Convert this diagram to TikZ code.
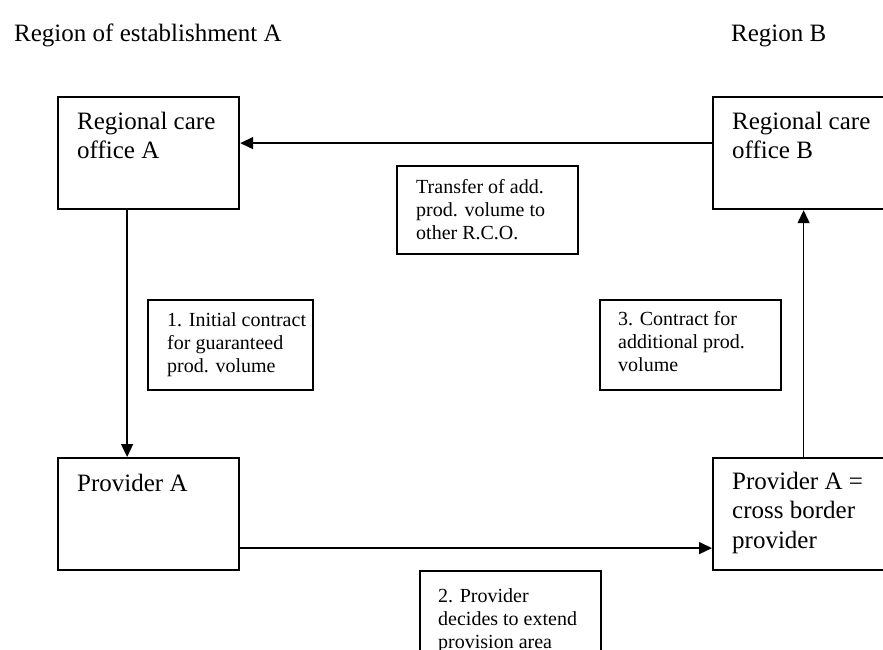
\documentclass[tikz,border=0pt]{standalone}
\usepackage{fontspec}
\setmainfont{Liberation Serif}
\usetikzlibrary{arrows.meta}

\begin{document}
\begin{tikzpicture}[x=1pt,y=-1pt,
  bigbox/.style={draw, line width=2.2pt, minimum width=181pt, minimum height=112pt, anchor=north west, inner sep=0pt},
  smallbox/.style={draw, line width=2pt, anchor=north west, inner sep=0pt},
  bigtxt/.style={anchor=base west, align=left, inner sep=0pt, font=\fontsize{25}{29.5}\selectfont},
  smalltxt/.style={anchor=base west, align=left, inner sep=0pt, font=\fontsize{20}{23}\selectfont},
  arr/.style={line width=1.4pt, -{Triangle[length=13pt,width=12pt]}}]

\useasboundingbox (0,0) rectangle (883,650);
\clip (0,0) rectangle (883,650);

\node[bigtxt] (regA) at (14,42) {Region of establishment A};
\node[bigtxt] (regB) at (731,42) {Region B};

\node[bigbox] (rca) at (57,96) {};
\node[bigbox] (rcb) at (712,96) {};
\node[bigbox] (prova) at (57,457) {};
\node[bigbox] (cbp) at (712,457) {};

\node[bigtxt] (rcaText) at (77,158.5) {Regional care\\office A};
\node[bigtxt] (rcbText) at (732,158.5) {Regional care\\office B};
\node[bigtxt] (provaText) at (77,491) {Provider A};
\node[bigtxt] (cbpText) at (732,548) {Provider A =\\cross border\\provider};

\node[smallbox, minimum width=181pt, minimum height=88pt] (transfer) at (396,165) {};
\node[smallbox, minimum width=165pt, minimum height=90pt] (step1) at (147,299) {};
\node[smallbox, minimum width=181pt, minimum height=90pt] (step3) at (599,299) {};
\node[smallbox, minimum width=181pt, minimum height=120pt] (step2) at (419,570) {};

\node[smalltxt] (transferText) at (416,239) {Transfer of add.\\prod. volume to\\other R.C.O.};
\node[smalltxt] (step1Text) at (167,372) {1. Initial contract\\for guaranteed\\prod. volume};
\node[smalltxt] (step3Text) at (618,371) {3. Contract for\\additional prod.\\volume};
\node[smalltxt] (step2Text) at (438,648) {2. Provider\\decides to extend\\provision area};

\draw[arr] ([yshift=10pt]rcb.west) -- ([yshift=10pt]rca.east);
\draw[arr] ([xshift=-21.5pt]rca.south) -- ([xshift=-21.5pt]prova.north);
\draw[arr] ([yshift=-34pt]prova.east) -- ([yshift=-34pt]cbp.west);
\draw[arr] (cbp.north) -- (rcb.south);

\end{tikzpicture}
\end{document}
